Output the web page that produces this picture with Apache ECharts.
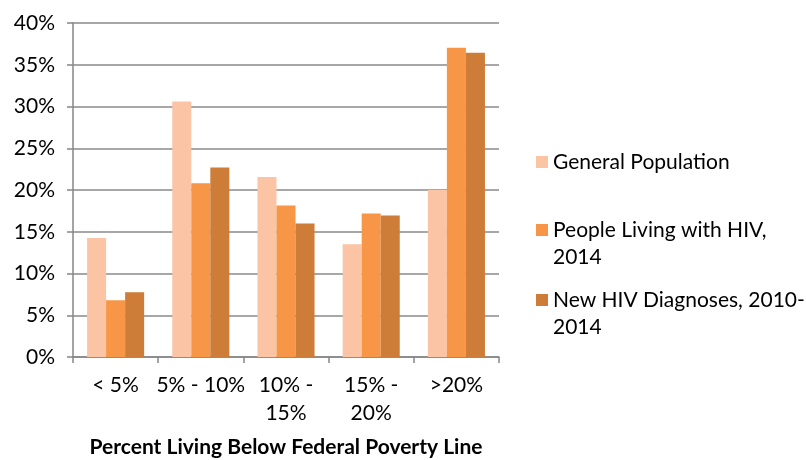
<!DOCTYPE html>
<html>
<head>
<meta charset="utf-8">
<style>
  html, body { margin: 0; padding: 0; background: #fff; }
  #chart { width: 806px; height: 460px; }
</style>
<script src="https://cdn.jsdelivr.net/npm/echarts@6/dist/echarts.min.js"></script>
</head>
<body>
<div id="chart"></div>
<script>
// Share of each group living in areas by poverty level
const categories = ['< 5%', '5% - 10%', '10% -\n15%', '15% -\n20%', '>20%'];
const generalPopulation = [14.25, 30.6, 21.55, 13.5, 20.0];
const peopleLivingWithHIV = [6.8, 20.8, 18.15, 17.2, 37.05];
const newDiagnoses = [7.75, 22.7, 16.0, 16.95, 36.45];
const yTicks = [0, 5, 10, 15, 20, 25, 30, 35, 40];

const seriesNames = ['General Population', 'People Living with HIV, 2014', 'New HIV Diagnoses, 2010-2014'];
// A leading blank line keeps the swatch level with the first text line
const legendLabels = ['General Population', '\u00a0\nPeople Living with HIV,\n2014', '\u00a0\nNew HIV Diagnoses, 2010-\n2014'];
const colors = ['#FAC4A5', '#F79646', '#CD7D37'];

const FONT = 'Lato, "Open Sans", sans-serif';
const FS = 21;
const LH = 27;

const chart = echarts.init(document.getElementById('chart'), null, { renderer: 'canvas' });

function makeLegend(i, top) {
  return {
    show: true,
    left: 536,
    top: top,
    padding: 0,
    itemWidth: 12,
    itemHeight: 12,
    icon: 'rect',
    selectedMode: false,
    data: [{ name: seriesNames[i] }],
    formatter: () => legendLabels[i],
    textStyle: { fontFamily: FONT, fontSize: FS, color: '#000', lineHeight: LH }
  };
}

const option = {
  animation: false,
  color: colors,
  grid: { left: 73, right: 307, top: 23, bottom: 103, outerBoundsMode: 'none', containLabel: false },
  legend: [
    makeLegend(0, 148.5),
    makeLegend(1, 189.5),
    makeLegend(2, 259.5)
  ],
  xAxis: {
    type: 'category',
    data: categories,
    name: 'Percent Living Below Federal Poverty Line',
    nameLocation: 'middle',
    nameGap: 80,
    nameTextStyle: { fontFamily: FONT, fontSize: FS, fontWeight: 'bold', color: '#000' },
    axisLine: { lineStyle: { color: '#868686', width: 1.5 } },
    axisTick: { show: true, length: 6, lineStyle: { color: '#868686', width: 1.5 } },
    axisLabel: {
      fontFamily: FONT, fontSize: FS, color: '#000', margin: 14,
      lineHeight: 28, interval: 0
    }
  },
  yAxis: {
    type: 'value',
    min: yTicks[0],
    max: yTicks[yTicks.length - 1],
    interval: 5,
    axisLine: { show: true, lineStyle: { color: '#868686', width: 1.5 } },
    axisTick: { show: true, length: 6, lineStyle: { color: '#868686', width: 1.5 } },
    splitLine: { lineStyle: { color: '#8a8a8a', width: 1.5 } },
    axisLabel: {
      fontFamily: FONT, fontSize: FS, color: '#000', margin: 18,
      formatter: v => v + '%'
    }
  },
  series: [
    { name: seriesNames[0], type: 'bar', data: generalPopulation, barGap: '0%', barCategoryGap: '33%' },
    { name: seriesNames[1], type: 'bar', data: peopleLivingWithHIV, barGap: '0%', barCategoryGap: '33%' },
    { name: seriesNames[2], type: 'bar', data: newDiagnoses, barGap: '0%', barCategoryGap: '33%' }
  ]
};

chart.setOption(option);
</script>
</body>
</html>
